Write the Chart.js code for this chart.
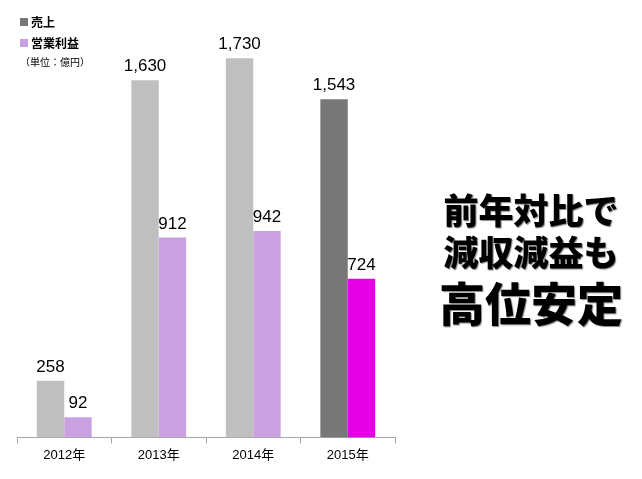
<!DOCTYPE html>
<html lang="ja">
  <head>
    <meta charset="UTF-8" />
    <title>売上・営業利益</title>
    <script src="https://cdn.jsdelivr.net/npm/chart.js"></script>
    <style>
      body { margin: 0; background: #fff; font-family: "Liberation Sans", "Noto Sans CJK JP", sans-serif; }
      #wrap { position: relative; width: 642px; height: 479px; }
      #legend { position: absolute; left: 20px; top: 12px; font-size: 12px; color: #000; }
      #legend .item { height: 21px; line-height: 20px; font-weight: bold; font-family: "Noto Sans CJK JP", sans-serif; }
      #legend .sw { display: inline-block; width: 8px; height: 8px; margin-right: 3px; vertical-align: 1px; }
      #legend .unit { font-size: 10px; margin-top: 0; font-family: "Noto Sans CJK JP", sans-serif; }
      #headline { position: absolute; left: 420px; top: 188px; width: 222px; text-align: center;
        font-family: "Noto Sans CJK JP", sans-serif; font-weight: 900; color: #000;
        text-shadow: 1px 1px 1px #888; }
      #headline .l1, #headline .l2 { font-size: 35px; line-height: 42px; }
      #headline .l3 { font-size: 46px; line-height: 58px; }
    </style>
  </head>
  <body>
    <div id="wrap">
      <canvas id="salesChart" width="642" height="479"></canvas>
      <div id="legend">
        <div class="item"><span class="sw" style="background:#777777"></span>売上</div>
        <div class="item"><span class="sw" style="background:#C9A0E0"></span>営業利益</div>
        <div class="unit">（単位：億円）</div>
      </div>
      <div id="headline">
        <div class="l1">前年対比で</div>
        <div class="l2">減収減益も</div>
        <div class="l3">高位安定</div>
      </div>
    </div>
    <script>
      const years = ["2012年", "2013年", "2014年", "2015年"];
      const sales = [258, 1630, 1730, 1543];
      const operatingProfit = [92, 912, 942, 724];
      const salesColors = ["#BFBFBF", "#BFBFBF", "#BFBFBF", "#777777"];
      const profitColors = ["#C9A0E0", "#C9A0E0", "#C9A0E0", "#E600E6"];

      // draws the value above every bar
      const valueLabels = {
        id: "valueLabels",
        afterDatasetsDraw(chart) {
          const ctx = chart.ctx;
          ctx.save();
          ctx.font = "17px 'Liberation Sans', Arial, sans-serif";
          ctx.fillStyle = "#000";
          ctx.textAlign = "center";
          ctx.textBaseline = "bottom";
          chart.data.datasets.forEach((ds, i) => {
            chart.getDatasetMeta(i).data.forEach((bar, j) => {
              ctx.fillText(ds.data[j].toLocaleString("en-US"), bar.x, bar.y - 5);
            });
          });
          ctx.restore();
        },
      };

      new Chart(document.getElementById("salesChart").getContext("2d"), {
        type: "bar",
        data: {
          labels: years,
          datasets: [
            { label: "売上", data: sales, backgroundColor: salesColors },
            { label: "営業利益", data: operatingProfit, backgroundColor: profitColors },
          ],
        },
        options: {
          responsive: false,
          animation: false,
          layout: { padding: { left: 17, right: 247, top: 21, bottom: 12 } },
          datasets: { bar: { categoryPercentage: 0.58, barPercentage: 1 } },
          plugins: { legend: { display: false }, tooltip: { enabled: false } },
          scales: {
            x: {
              grid: { offset: true, drawOnChartArea: false, color: "#A6A6A6", tickLength: 6 },
              border: { color: "#A6A6A6" },
              ticks: { color: "#000", font: { size: 13, family: "'Liberation Sans', 'Noto Sans CJK JP'" }, padding: 4 },
            },
            y: { display: false, min: 0, max: 1900 },
          },
        },
        plugins: [valueLabels],
      });
    </script>
  </body>
</html>
